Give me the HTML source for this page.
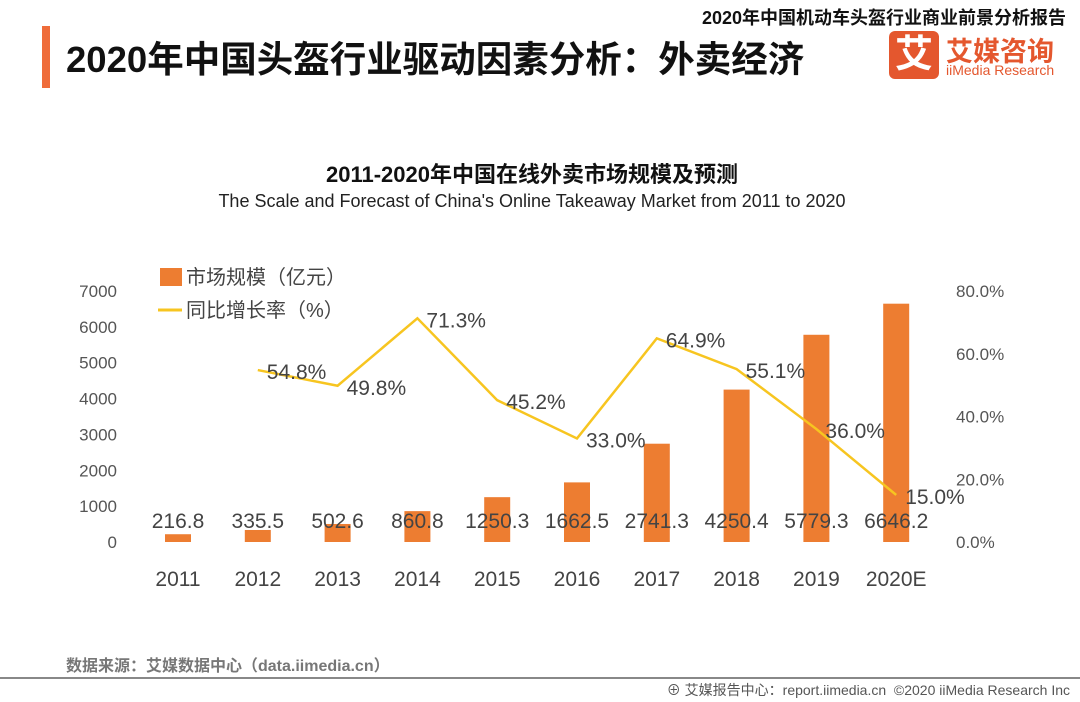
<!DOCTYPE html>
<html><head><meta charset="utf-8"><style>
body{margin:0;width:1080px;height:702px;background:#fff;overflow:hidden;font-family:"Liberation Sans","Noto Sans CJK SC",sans-serif;position:relative}
.a{position:absolute;white-space:nowrap}
</style></head><body>
<div class="a" style="right:14px;top:4px;font-size:18px;font-weight:bold;color:#111">2020年中国机动车头盔行业商业前景分析报告</div>
<div class="a" style="left:42px;top:26px;width:8px;height:62px;background:#ef6c3a"></div>
<div class="a" style="left:66px;top:30px;font-size:36.5px;font-weight:bold;color:#111">2020年中国头盔行业驱动因素分析：外卖经济</div>
<div class="a" style="left:889px;top:31px;width:50px;height:48px;background:#e4572e;border-radius:6px;color:#fff;font-size:38px;font-weight:bold;text-align:center;line-height:48px">艾</div>
<div class="a" style="left:946px;top:30px;font-size:27px;font-weight:bold;color:#e4572e">艾媒咨询</div>
<div class="a" style="left:946px;top:62px;font-size:14px;color:#e4572e">iiMedia Research</div>
<div class="a" style="left:0;width:1064px;text-align:center;top:157px;font-size:22px;font-weight:bold;color:#111">2011-2020年中国在线外卖市场规模及预测</div>
<div class="a" style="left:0;width:1064px;text-align:center;top:191px;font-size:18px;color:#222">The Scale and Forecast of China's Online Takeaway Market from 2011 to 2020</div>
<svg class="a" style="left:0;top:0" width="1080" height="702" id="c"></svg>
<div class="a" style="left:66px;top:652px;font-size:16px;color:#777;font-weight:bold">数据来源：艾媒数据中心（data.iimedia.cn）</div>
<div class="a" style="left:0;top:677px;width:1080px;height:2px;background:#888"></div>
<div class="a" style="right:10px;top:680px;font-size:14px;color:#555">⊕ 艾媒报告中心：report.iimedia.cn &nbsp;©2020 iiMedia Research Inc</div>
<script>
const categories=["2011","2012","2013","2014","2015","2016","2017","2018","2019","2020E"];
const marketSize=[216.8,335.5,502.6,860.8,1250.3,1662.5,2741.3,4250.4,5779.3,6646.2];
const growth=[null,54.8,49.8,71.3,45.2,33.0,64.9,55.1,36.0,15.0];
const leftTicks=[0,1000,2000,3000,4000,5000,6000,7000];
const rightTicks=[0,20,40,60,80];
const svg=document.getElementById('c');const NS='http://www.w3.org/2000/svg';
const y0=542,yTop=291;
const yL=v=>y0-(v/7000)*(y0-yTop);
const yR=v=>y0-(v/80)*(y0-yTop);
const xC=i=>178+i*79.8;
function mk(t,a,txt){const e=document.createElementNS(NS,t);for(const k in a)e.setAttribute(k,a[k]);if(txt!=null)e.textContent=txt;svg.appendChild(e);return e;}
leftTicks.forEach(v=>{const e=mk('text',{x:117,y:yL(v)+6,'text-anchor':'end','font-size':17,fill:'#555'},v);

});
rightTicks.forEach(v=>{const e=mk('text',{x:956,y:yR(v)+6,'font-size':17,fill:'#555'},v.toFixed(1)+'%');

});
categories.forEach((c,i)=>{
const r=mk('rect',{x:xC(i)-13,y:yL(marketSize[i]),width:26,height:y0-yL(marketSize[i]),fill:'#ed7d31'});


const t=mk('text',{x:xC(i),y:528,'text-anchor':'middle','font-size':21,fill:'#444'},marketSize[i].toFixed(1));


const l=mk('text',{x:xC(i),y:586,'text-anchor':'middle','font-size':21,fill:'#444'},c);


});
let pts=[];growth.forEach((g,i)=>{if(g!=null)pts.push(xC(i)+','+yR(g));});
const pl=mk('polyline',{points:pts.join(' '),fill:'none',stroke:'#f7c520','stroke-width':2.5});


growth.forEach((g,i)=>{if(g==null)return;
const t=mk('text',{x:xC(i)+9,y:yR(g)+9,'font-size':21,fill:'#444'},g.toFixed(1)+'%');

});
const lb=mk('rect',{x:160,y:268,width:22,height:18,fill:'#ed7d31'});


const lt=mk('text',{x:186,y:284,'font-size':20,fill:'#444'},'市场规模（亿元）');


const ll=mk('line',{x1:158,y1:310,x2:182,y2:310,stroke:'#f7c520','stroke-width':3});


const lt2=mk('text',{x:186,y:317,'font-size':20,fill:'#444'},'同比增长率（%）');


</script>
</body></html>
